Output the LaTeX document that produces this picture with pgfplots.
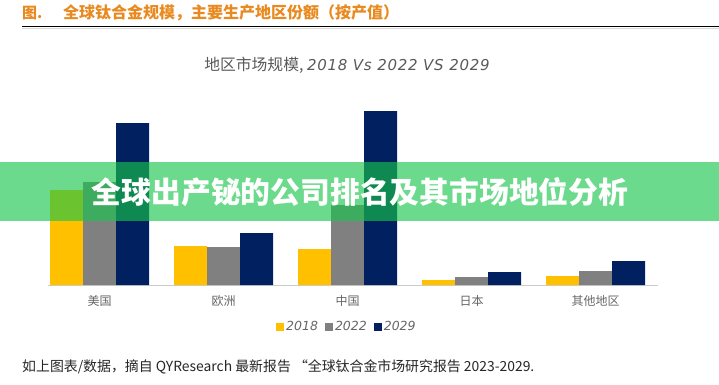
\documentclass[border=0pt]{standalone}
\usepackage{pgfplots}
\pgfplotsset{compat=1.18}
\usepackage{fontspec}
\setmainfont{Noto Sans CJK SC}
\newfontfamily\latinit{DejaVu Sans}
\newfontfamily\latinsp[LetterSpace=5]{DejaVu Sans}
\definecolor{cyellow}{RGB}{255,192,0}
\definecolor{cgray}{RGB}{128,128,128}
\definecolor{cnavy}{RGB}{0,32,96}
\definecolor{corange}{RGB}{232,138,32}
\definecolor{bgreen}{RGB}{25,197,75}
\pgfplotsset{sqleg/.style={legend image code/.code={\fill[##1,draw=none] (0pt,-4pt) rectangle (8pt,4pt);}}}
\begin{document}
\begin{tikzpicture}[x=1pt,y=1pt]
\useasboundingbox (0,0) rectangle (719,384);
% top title
\node[anchor=west, text=corange, font=\fontsize{15}{15}\selectfont\bfseries, inner sep=0pt] at (22,371) {图.};
\node[anchor=west, text=corange, font=\fontsize{16}{16}\selectfont\bfseries, inner sep=0pt] at (63,371) {全球钛合金规模，主要生产地区份额（按产值）};
\draw[line width=1.3pt, black] (22,357.5) -- (719,357.5);
\draw[line width=1pt, black!15] (22,355.5) -- (719,355.5);
% chart title
\node[text=black!65, font=\fontsize{15.8}{15.8}\selectfont, inner sep=0pt] at (347,319) {地区市场规模, {\latinsp\itshape\fontsize{15}{15}\selectfont 2018 Vs 2022 VS 2029}};
\begin{axis}[
  at={(48pt,99pt)}, anchor=south west, scale only axis,
  width=610pt, height=180pt,
  xmin=-0.416, xmax=4.504, ymin=0, ymax=180,
  ybar=0pt, bar width=33pt,
  axis x line*=bottom, axis y line=none,
  x axis line style={draw=black!20, line width=0.8pt},
  xtick={0,1,2,3,4},
  xticklabels={美国,欧洲,中国,日本,其他地区},
  xtick style={draw=none},
  xticklabel style={font=\fontsize{12}{12}\selectfont, text=black!60, yshift=-3pt},
  legend style={at={(0.49,-0.233)}, anchor=center, draw=none, fill=none,
    legend columns=3, font=\latinit\itshape\fontsize{12.5}{12.5}\selectfont, text=black!60,
    /tikz/every even column/.append style={column sep=5pt}},
  legend cell align=left,
]
\addplot[fill=cyellow, draw=none, sqleg] coordinates {(0,95) (1,39) (2,36) (3,5) (4,9)};
\addplot[fill=cgray, draw=none, sqleg] coordinates {(0,103) (1,38) (2,80) (3,8) (4,14)};
\addplot[fill=cnavy, draw=none, sqleg] coordinates {(0,162) (1,52) (2,174) (3,13) (4,24)};
\legend{2018,2022,2029}
\end{axis}
% banner
\fill[bgreen, opacity=0.64] (0,163) rectangle (719,222);
\node[text=white, font=\fontsize{29.8}{29.8}\selectfont\bfseries, inner sep=0pt] at (360,192) {全球出产铋的公司排名及其市场地位分析};
% footer
\node[anchor=west, text=black!85, font=\fontsize{13.9}{13.9}\selectfont, inner sep=0pt] at (22,17) {如上图表/数据，摘自 QYResearch 最新报告 “全球钛合金市场研究报告 2023-2029.};
\end{tikzpicture}
\end{document}
